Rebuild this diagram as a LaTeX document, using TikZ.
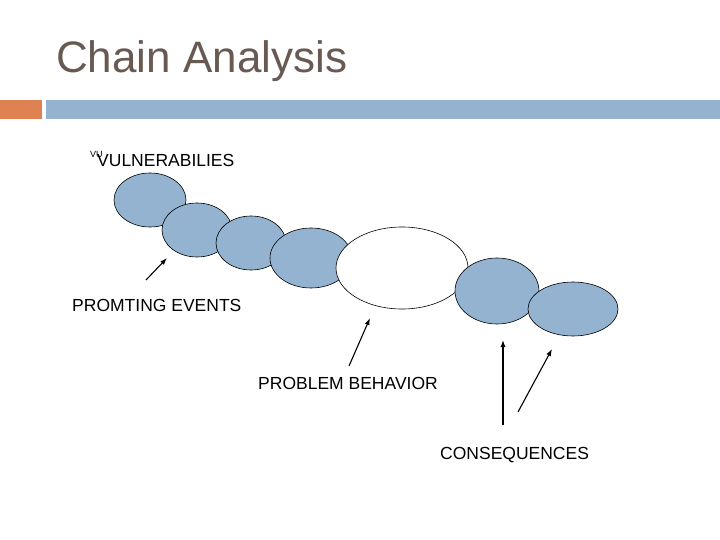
\documentclass[tikz,border=0pt]{standalone}
\usepackage{fontspec}
\setmainfont{Liberation Sans}
\usetikzlibrary{arrows.meta}
\begin{document}
\begin{tikzpicture}[x=1pt,y=-1pt,
  blob/.style={draw=black,fill=blobblue,line width=0.6pt},
  wblob/.style={draw=black,fill=white,line width=0.6pt},
  lbl/.style={inner sep=0pt,anchor=base west,font=\fontsize{17.5}{20}\selectfont},
  arr/.style={-{Latex[length=7pt,width=5pt]},line width=1.1pt}]
\definecolor{blobblue}{RGB}{148,179,208}
\definecolor{barorange}{RGB}{221,130,80}
\definecolor{titlegray}{RGB}{104,90,82}
\useasboundingbox (0,0) rectangle (720,540);
\fill[white] (0,0) rectangle (720,540);
\node[inner sep=0pt,anchor=base west,text=titlegray,font=\fontsize{44}{48}\selectfont] (title) at (56,73) {Chain Analysis};
\fill[barorange] (0,100) rectangle (42,119);
\fill[blobblue] (46,100) rectangle (720,119);
\draw[blob] (150,200) ellipse [x radius=36,y radius=27];
\draw[blob] (197,230) ellipse [x radius=35,y radius=27];
\draw[blob] (251,243) ellipse [x radius=35,y radius=27];
\draw[blob] (311,258) ellipse [x radius=41,y radius=30];
\draw[wblob] (402,268) ellipse [x radius=66,y radius=41];
\draw[blob] (497,291) ellipse [x radius=42,y radius=33];
\draw[blob] (573,309) ellipse [x radius=45,y radius=27];
\node[lbl] (vul) at (97,167) {VULNERABILIES};
\node[lbl,font=\fontsize{9}{10}\selectfont] (vu) at (90,158) {VU};
\node[lbl] (prom) at (72,311) {PROMTING EVENTS};
\node[lbl] (prob) at (258,389) {PROBLEM BEHAVIOR};
\node[lbl] (cons) at (440,459) {CONSEQUENCES};
\coordinate (a1s) at (146,280); \coordinate (a1e) at (167,258);
\coordinate (a2s) at (349,366); \coordinate (a2e) at (370,318);
\coordinate (a3s) at (503,425); \coordinate (a3e) at (503,340);
\coordinate (a4s) at (518,412); \coordinate (a4e) at (552,349);
\draw[arr] (a1s) -- (a1e);
\draw[arr] (a2s) -- (a2e);
\draw[arr] (a3s) -- (a3e);
\draw[arr] (a4s) -- (a4e);
\end{tikzpicture}
\end{document}
